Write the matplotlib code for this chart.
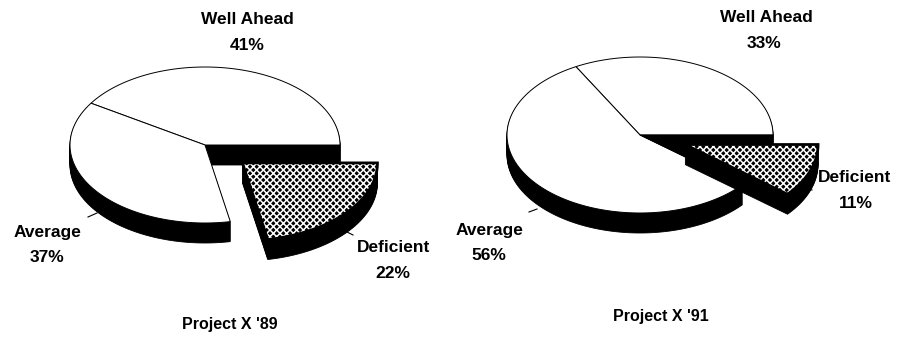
import numpy as np
import matplotlib
matplotlib.use("Agg")
import matplotlib.pyplot as plt

# data
categories = ['Well Ahead', 'Average', 'Deficient']
share_89 = [41, 37, 22]
share_91 = [33, 56, 11]
titles = ["Project X '89", "Project X '91"]

plt.rcParams['font.family'] = ['Liberation Sans', 'DejaVu Sans']
plt.rcParams['hatch.linewidth'] = 1.1
plt.rcParams['hatch.color'] = 'white'


def rim(cx, cy, rx, ry, t):
    return cx + rx * np.cos(t), cy - ry * np.sin(t)


def wedge_xy(cx, cy, rx, ry, a0, a1):
    t = np.radians(np.linspace(a0, a1, 120))
    xs, ys = rim(cx, cy, rx, ry, t)
    return np.r_[cx, xs], np.r_[cy, ys]


def pie3d(ax, values, cx, cy, rx, ry, depth, explode, hatches, dark_hole=False):
    # slices run counter-clockwise from 3 o'clock, drawn back to front
    total = float(sum(values))
    a0 = 0.0
    for v, e, h in zip(values, explode, hatches):
        a1 = a0 + 360.0 * v / total
        mid = np.radians((a0 + a1) / 2)
        ox, oy = rx * e * np.cos(mid), -ry * e * np.sin(mid)
        if e and dark_hole:
            hx, hy = wedge_xy(cx, cy, rx, ry, a0, a1)
            ax.fill(hx, hy, color='black', lw=0.6)
        xs, ys = wedge_xy(cx + ox, cy + oy, rx, ry, a0, a1)
        # extruded side: stack the slice shape downwards
        for k in np.arange(depth, 0, -1.0):
            ax.fill(xs, ys + k, color='black', lw=0.6)
        if h:
            ax.fill(xs, ys, facecolor='black', edgecolor='white', hatch=h, lw=0)
            ax.fill(xs, ys, facecolor='none', edgecolor='black', lw=2.0)
        else:
            ax.fill(xs, ys, facecolor='white', edgecolor='black', lw=0.7)
        a0 = a1


fig = plt.figure(figsize=(8.98, 3.40), dpi=100)
ax = fig.add_axes([0, 0, 1, 1])
ax.set_xlim(0, 898)
ax.set_ylim(340, 0)
ax.axis('off')

hatch = 'xxxxx'
lab = dict(ha='center', va='center', fontsize=12.5, fontweight='bold')

# Project X '89
pie3d(ax, share_89, 205, 145, 135, 78, 20, [0, 0, 0.36], [None, None, hatch])
ax.text(247, 19, categories[0], **lab)
ax.text(247, 45, f'{share_89[0]}%', **lab)
ax.text(47, 233, categories[1], **lab)
ax.text(47, 258, f'{share_89[1]}%', **lab)
ax.text(394, 248, categories[2], **lab)
ax.text(393, 274, f'{share_89[2]}%', **lab)
ax.plot([88, 97], [217, 213], color='black', lw=0.8)
ax.plot([343, 353], [230, 235], color='black', lw=0.8)
ax.text(230, 325, titles[0], ha='center', va='center', fontsize=11.5, fontweight='bold')

# Project X '91
pie3d(ax, share_91, 640, 135, 133, 78, 20, [0, 0, 0.36], [None, None, hatch], dark_hole=True)
ax.text(766, 18, categories[0], **lab)
ax.text(764, 43, f'{share_91[0]}%', **lab)
ax.text(489, 230, categories[1], **lab)
ax.text(489, 256, f'{share_91[1]}%', **lab)
ax.plot([529, 537], [212, 209], color='black', lw=0.8)
ax.text(855, 178, categories[2], **lab)
ax.text(856, 203, f'{share_91[2]}%', **lab)
ax.plot([804, 812], [188, 190], color='black', lw=0.8)
ax.text(661, 317, titles[1], ha='center', va='center', fontsize=11.5, fontweight='bold')

fig.savefig('out.png', dpi=100)
